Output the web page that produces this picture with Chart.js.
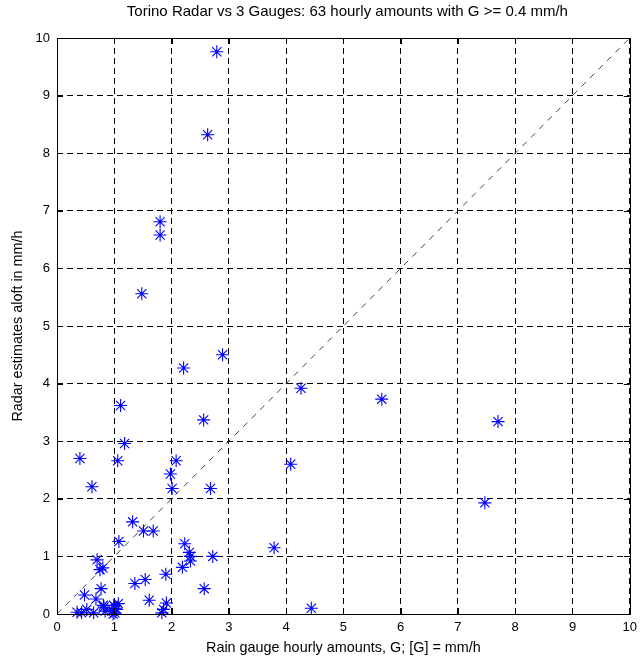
<!DOCTYPE html>
<html>
<head>
<meta charset="utf-8">
<script src="https://cdn.jsdelivr.net/npm/chart.js@4"></script>
<style>
  html, body { margin: 0; padding: 0; background: #fff; }
  #wrap { width: 643px; height: 661px; }
</style>
</head>
<body>
<div id="wrap"><canvas id="scatterChart" width="643" height="661"></canvas></div>
<script>
// gauge (x) and radar (y) hourly amounts, mm/h
const gauge = [2.79, 2.63, 1.80, 1.80, 1.48, 2.89, 2.21, 4.26, 1.11, 5.67,
    7.70, 2.56, 1.18, 0.40, 1.06, 2.08, 1.98, 0.61, 2.01, 2.68,
    4.08, 7.47, 3.79, 4.44, 1.32, 1.51, 1.68, 1.08, 2.23, 2.31,
    2.33, 2.33, 2.72, 2.19, 0.70, 0.75, 0.80, 1.90, 1.36, 1.54,
    2.57, 0.77, 0.48, 0.68, 1.61, 1.91, 0.81, 0.99, 1.07, 0.52,
    0.35, 0.43, 0.64, 0.84, 0.96, 1.01, 1.04, 1.83, 1.86, 0.98,
    1.02, 0.82];
const radar = [9.76, 8.32, 6.81, 6.58, 5.56, 4.50, 4.27, 3.92, 3.62, 3.73,
    3.34, 3.37, 2.96, 2.70, 2.66, 2.66, 2.43, 2.21, 2.18, 2.18,
    2.60, 1.93, 1.15, 0.10, 1.60, 1.44, 1.44, 1.26, 1.22, 1.07,
    1.00, 0.92, 1.00, 0.81, 0.94, 0.77, 0.80, 0.69, 0.53, 0.60,
    0.44, 0.44, 0.33, 0.26, 0.24, 0.19, 0.15, 0.15, 0.18, 0.08,
    0.03, 0.02, 0.02, 0.05, 0.05, 0.02, 0.08, 0.02, 0.08, 0.00,
    0.10, 0.12];
const diagonal = [0, 10];
const tickValues = [0, 1, 2, 3, 4, 5, 6, 7, 8, 9, 10];
const chartTitle = 'Torino Radar vs 3 Gauges: 63 hourly amounts with G >= 0.4 mm/h';

const FONT = "'Liberation Sans', Arial, Helvetica, sans-serif";

const points = gauge.map(function (g, i) {
    return { x: g, y: radar[i] };
});

// box round the plot with small inward ticks, like matlab axes,
// and the title centred over the axes (not the whole canvas)
const boxPlugin = {
    id: 'boxPlugin',
    afterDraw: function (chart) {
        const ctx = chart.ctx;
        const a = chart.chartArea;
        const xs = chart.scales.x;
        const ys = chart.scales.y;
        ctx.save();
        ctx.strokeStyle = '#000';
        ctx.lineWidth = 1;
        ctx.setLineDash([]);
        ctx.strokeRect(Math.round(a.left) + 0.5, Math.round(a.top) + 0.5,
            Math.round(a.right - a.left), Math.round(a.bottom - a.top));
        ctx.beginPath();
        tickValues.forEach(function (v) {
            const px = Math.round(xs.getPixelForValue(v)) + 0.5;
            ctx.moveTo(px, a.bottom); ctx.lineTo(px, a.bottom - 6);
            ctx.moveTo(px, a.top); ctx.lineTo(px, a.top + 6);
            const py = Math.round(ys.getPixelForValue(v)) + 0.5;
            ctx.moveTo(a.left, py); ctx.lineTo(a.left + 6, py);
            ctx.moveTo(a.right, py); ctx.lineTo(a.right - 6, py);
        });
        ctx.stroke();

        ctx.fillStyle = '#000';
        ctx.font = '15px ' + FONT;
        ctx.textAlign = 'center';
        ctx.textBaseline = 'middle';
        ctx.fillText(chartTitle, (a.left + a.right) / 2 + 4, 12);
        ctx.restore();
    }
};

const ctx = document.getElementById('scatterChart').getContext('2d');
new Chart(ctx, {
    type: 'scatter',
    data: {
        datasets: [{
            data: points,
            pointStyle: 'star',
            pointRadius: 6.5,
            pointHoverRadius: 6.5,
            borderColor: '#0000ff',
            backgroundColor: '#0000ff',
            borderWidth: 1.1,
            clip: false
        }, {
            type: 'line',
            data: diagonal.map(function (v) { return { x: v, y: v }; }),
            borderColor: '#444',
            borderWidth: 1,
            borderDash: [6, 6],
            pointRadius: 0,
            fill: false
        }]
    },
    options: {
        responsive: false,
        animation: false,
        layout: {
            padding: { left: 0, right: 11, top: 38, bottom: 0 }
        },
        plugins: {
            legend: { display: false },
            tooltip: { enabled: false },
            title: { display: false }
        },
        scales: {
            x: {
                type: 'linear',
                min: 0,
                max: 10,
                afterFit: function (scale) { scale.height = 47; },
                afterBuildTicks: function (scale) {
                    scale.ticks = tickValues.map(function (v) { return { value: v }; });
                },
                grid: { color: '#000', lineWidth: 1, drawTicks: false },
                border: { display: false, dash: [6, 4] },
                ticks: {
                    color: '#000',
                    padding: 6,
                    font: { family: FONT, size: 13 },
                    maxRotation: 0
                },
                title: {
                    display: true,
                    text: 'Rain gauge hourly amounts, G; [G] = mm/h',
                    color: '#000',
                    font: { family: FONT, size: 14.4 },
                    padding: { top: 0, bottom: 4 }
                }
            },
            y: {
                type: 'linear',
                min: 0,
                max: 10,
                afterFit: function (scale) { scale.width = 57; },
                afterBuildTicks: function (scale) {
                    scale.ticks = tickValues.map(function (v) { return { value: v }; });
                },
                grid: { color: '#000', lineWidth: 1, drawTicks: false },
                border: { display: false, dash: [6, 4] },
                ticks: {
                    color: '#000',
                    padding: 7,
                    font: { family: FONT, size: 13 }
                },
                title: {
                    display: true,
                    text: 'Radar estimates aloft in mm/h',
                    color: '#000',
                    font: { family: FONT, size: 14.4 },
                    padding: { top: 9, bottom: 0 }
                }
            }
        }
    },
    plugins: [boxPlugin]
});
</script>
</body>
</html>
